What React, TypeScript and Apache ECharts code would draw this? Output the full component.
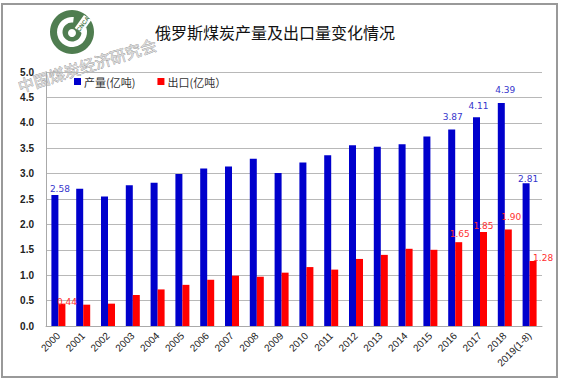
import React, { useEffect, useRef } from "react";
import * as echarts from "echarts";

const categories = ["2000","2001","2002","2003","2004","2005","2006","2007","2008","2009","2010","2011","2012","2013","2014","2015","2016","2017","2018","2019(1-8)"];
const production = [2.58,2.70,2.55,2.77,2.82,2.99,3.10,3.14,3.29,3.01,3.22,3.36,3.56,3.53,3.58,3.73,3.87,4.11,4.39,2.81];
const exportsV = [0.44,0.42,0.44,0.61,0.72,0.81,0.91,0.99,0.97,1.05,1.16,1.11,1.32,1.40,1.52,1.50,1.65,1.85,1.90,1.28];
const yTicks = [0,0.5,1,1.5,2,2.5,3,3.5,4,4.5,5];
const labeledIdx = [0,16,17,18,19];
const prodLabelOffset: Record<number, number[]> = {0:[5,-1],16:[1,-8],17:[2,-7],18:[4,-8],19:[2,0]};
const expLabelOffset: Record<number, number[]> = {0:[5,3],16:[1,-4],17:[0,-2],18:[3,-8],19:[10,2]};

export default function App() {
  const ref = useRef<HTMLDivElement>(null);
  useEffect(() => {
    if (!ref.current) return;
    const chart = echarts.init(ref.current, null, { renderer: "svg" });
    const mk = (vals: number[], offs: Record<number, number[]>, color: string) =>
      vals.map((v, i) =>
        labeledIdx.includes(i)
          ? { value: v, label: { show: true, position: "top", distance: 0, offset: offs[i], color, fontSize: 9, fontFamily: "DejaVu Sans", formatter: (p: any) => p.value.toFixed(2) } }
          : v
      );
    const green = "#4f7d50";
    chart.setOption({
      animation: false,
      backgroundColor: "#fff",
      title: {
        text: "俄罗斯煤炭产量及出口量变化情况",
        left: 155, top: 24, padding: 0,
        textStyle: { fontSize: 16, fontWeight: "normal", color: "#111", fontFamily: "Noto Sans CJK SC" },
      },
      legend: {
        left: 74, top: 76, padding: 0,
        itemWidth: 7, itemHeight: 7, itemGap: 22,
        icon: "rect",
        textStyle: { fontSize: 11, color: "#333", fontFamily: "Noto Sans CJK SC", padding: [0, 0, 0, -2] },
        data: ["产量(亿吨)", "出口(亿吨）"],
      },
      grid: { left: 46, right: 19, top: 72, bottom: 58, containLabel: false },
      xAxis: {
        type: "category",
        data: categories,
        axisLine: { lineStyle: { color: "#aaa" } },
        axisTick: { show: false },
        axisLabel: { interval: 0, rotate: 45, margin: 8, fontSize: 10, color: "#222", fontFamily: "Liberation Sans" },
      },
      yAxis: {
        type: "value",
        min: yTicks[0], max: yTicks[yTicks.length - 1], interval: 0.5,
        axisLine: { show: true, lineStyle: { color: "#aaa" } },
        axisTick: { show: false },
        axisLabel: { margin: 12, fontSize: 10, fontWeight: "bold", color: "#222", fontFamily: "Liberation Sans", formatter: (v: number) => v.toFixed(1) },
        splitLine: { lineStyle: { color: "#b8b8b8" } },
      },
      series: [
        { name: "产量(亿吨)", type: "bar", barWidth: 7, barGap: "0%", itemStyle: { color: "#0000cc" }, data: mk(production, prodLabelOffset, "#3535cc") },
        { name: "出口(亿吨）", type: "bar", barWidth: 7, barGap: "0%", itemStyle: { color: "#ff0000" }, data: mk(exportsV, expLabelOffset, "#ff3030") },
      ],
      graphic: [
        { type: "rect", shape: { x: 2, y: 4, width: 555, height: 373 }, style: { fill: "none", stroke: "#999", lineWidth: 2 }, silent: true },
        { type: "circle", shape: { cx: 72, cy: 32, r: 22 }, style: { fill: green } },
        { type: "sector", shape: { cx: 72, cy: 32, r0: 9.5, r: 15, startAngle: -0.3, endAngle: Math.PI * 2 - 1.45, clockwise: true }, style: { fill: "#fff" } },
        { type: "circle", shape: { cx: 72, cy: 33, r: 4 }, style: { fill: "#fff" } },
        {
          type: "group", x: 83, y: 24, rotation: 0.95,
          children: [
            { type: "rect", shape: { x: -8, y: -4.5, width: 16, height: 9 }, style: { fill: "#fff" } },
            { type: "text", x: 0, y: 0, style: { text: "CNCA", fontSize: 6, fontWeight: "bold", fill: green, align: "center", verticalAlign: "middle" } },
          ],
        },
        {
          type: "text", x: 87, y: 65, rotation: 0.3,
          style: { text: "中国煤炭经济研究会", fontSize: 16, fontFamily: "Noto Sans CJK SC", fill: "#d8d8d8", stroke: "#7a7a7a", lineWidth: 0.5, align: "center", verticalAlign: "middle" },
        },
      ],
    });
    return () => chart.dispose();
  }, []);
  return <div ref={ref} style={{ position: "absolute", left: 0, top: 0, width: 561, height: 384 }} />;
}
